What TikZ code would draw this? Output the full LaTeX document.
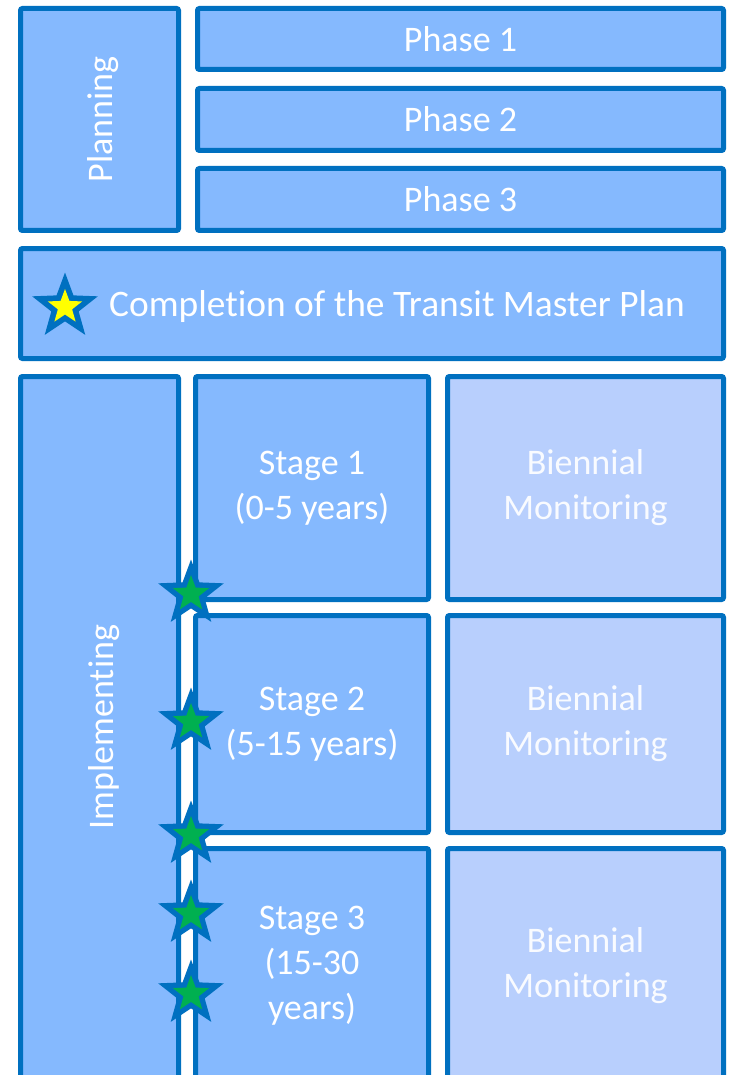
\documentclass[tikz,border=0pt]{standalone}
\usepackage{fontspec}
\setmainfont[Ligatures=NoCommon]{Carlito}
\usetikzlibrary{shapes.geometric}
\definecolor{boxblue}{HTML}{85B9FE}
\definecolor{lightblue}{HTML}{B8CFFD}
\definecolor{edgeblue}{HTML}{0070C0}
\definecolor{stargreen}{HTML}{00B050}
\definecolor{staryellow}{HTML}{FFFF00}
\begin{document}
\begin{tikzpicture}[x=1pt,y=-1pt,
  box/.style={draw=edgeblue, line width=5pt, fill=boxblue, rounded corners=2pt,
    inner sep=0pt, text=white, align=center,
    font=\fontsize{36}{45}\selectfont},
  monbox/.style={box, fill=lightblue, text=white!92!lightblue},
  txt/.style={inner sep=0pt, text=white, font=\fontsize{36}{45}\selectfont},
  bluestar/.style={star, star points=5, star point ratio=2.4, fill=edgeblue,
    inner sep=0pt, minimum size=69pt},
  greenstar/.style={star, star points=5, star point ratio=2.4, fill=stargreen,
    inner sep=0pt, minimum size=38pt},
  yellowstar/.style={greenstar, fill=staryellow, minimum size=36pt}]
\useasboundingbox[fill=white] (0,0) rectangle (729,1075);
% planning section
\node[box, minimum width=158pt, minimum height=222pt] (plan) at (99.5,119.5) {};
\node[txt, rotate=90] (plantext) at (103,119.5) {Planning};
\node[box, minimum width=526pt, minimum height=61pt] (ph1) at (460.5,39) {Phase 1};
\node[box, minimum width=526pt, minimum height=62pt] (ph2) at (460.5,119.5) {Phase 2};
\node[box, minimum width=526pt, minimum height=62pt] (ph3) at (460.5,199.5) {Phase 3};
% completion
\node[box, minimum width=703pt, minimum height=110pt] (comp) at (372,303.5) {};
\node[bluestar] (cs) at (65,307) {};
\node[yellowstar] (csi) at (cs.center) {};
\node[txt, anchor=base west, font=\fontsize{37.4}{45}\selectfont] (ctext) at (109,316) {Completion of the Transit Master Plan};
% implementing section
\node[box, minimum width=158pt, minimum height=706pt] (impl) at (99.5,729.5) {};
\node[txt, rotate=90] (impltext) at (104.5,727) {Implementing};
\node[box, minimum width=233pt, minimum height=223pt] (st1) at (312,488) {Stage 1\\(0-5 years)};
\node[box, minimum width=233pt, minimum height=217pt] (st2) at (312,724) {Stage 2\\(5-15 years)};
\node[box, minimum width=233pt, minimum height=234pt] (st3) at (312,965.5) {Stage 3\\(15-30\\years)};
\node[monbox, minimum width=276pt, minimum height=223pt] (m1) at (585.5,488) {Biennial\\Monitoring};
\node[monbox, minimum width=276pt, minimum height=217pt] (m2) at (585.5,724) {Biennial\\Monitoring};
\node[monbox, minimum width=276pt, minimum height=234pt] (m3) at (585.5,965.5) {Biennial\\Monitoring};
% milestone stars
\foreach \n/\yy in {a/594, b/722, c/835, d/914, e/994} {
  \node[bluestar] (ms\n) at (191,\yy) {};
  \node[greenstar] (mg\n) at (ms\n.center) {};
}
\end{tikzpicture}
\end{document}
